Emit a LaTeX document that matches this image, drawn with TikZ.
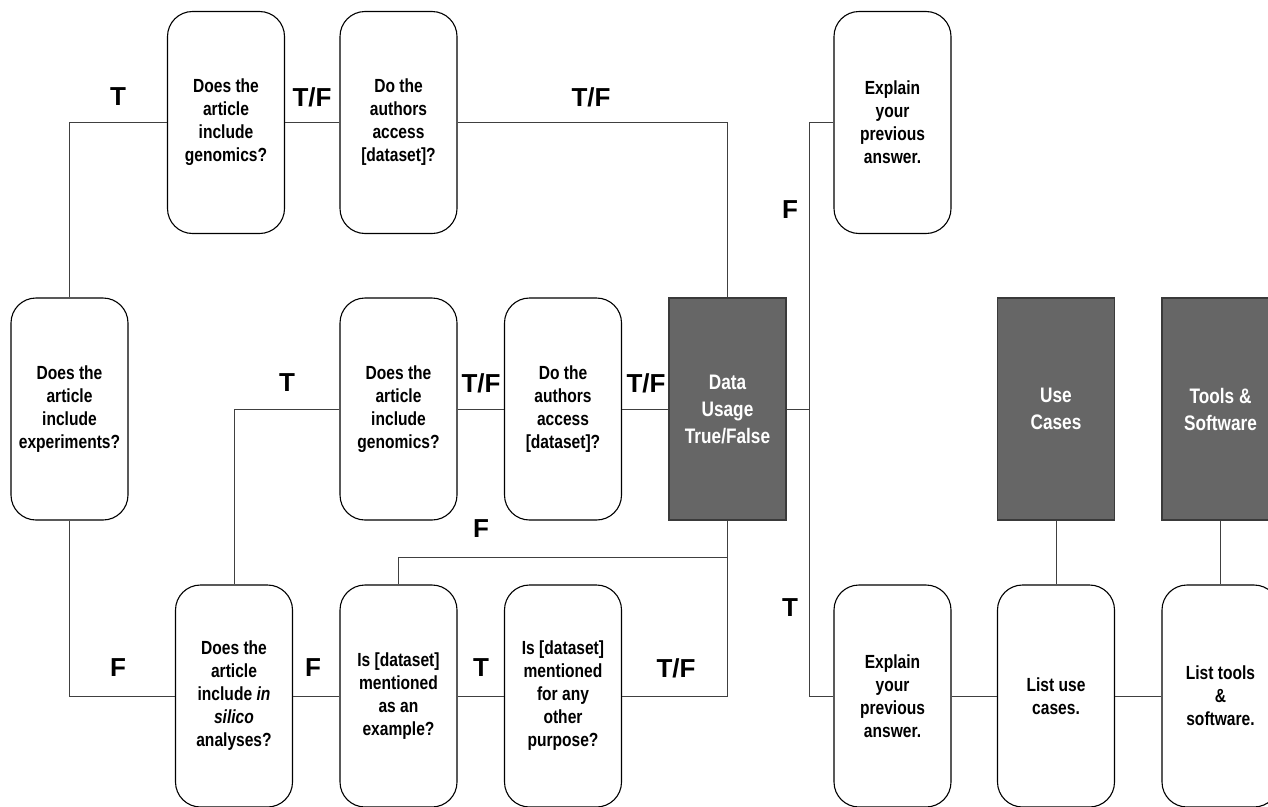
\documentclass[tikz,border=0pt]{standalone}
\usepackage{fontspec}
\setmainfont{Liberation Sans}
\newfontfamily\narrowfont[FakeStretch=0.82]{Liberation Sans}
\definecolor{boxgray}{HTML}{666666}
\definecolor{boxedge}{HTML}{3A3A3A}
\definecolor{linegray}{HTML}{404040}
\tikzset{
  question/.style={draw=black, line width=1.1pt, rounded corners=25pt,
    minimum width=117pt, minimum height=222pt, align=center, inner sep=1pt,
    font=\narrowfont\bfseries\fontsize{19}{23}\selectfont},
  category/.style={draw=boxedge, fill=boxgray, line width=1.1pt,
    minimum width=117pt, minimum height=222pt, align=center, inner sep=1pt,
    text=white, font=\narrowfont\bfseries\fontsize{21}{27}\selectfont},
  flow/.style={draw=linegray, line width=1pt},
  answer/.style={font=\bfseries\fontsize{26}{30}\selectfont, inner sep=0pt}
}
\begin{document}
\begin{tikzpicture}[x=1pt, y=-1pt]
\useasboundingbox (0,0) rectangle (1268,806);
\clip (0,0) rectangle (1268,806);

% question and output boxes
\node[question] (exp)   at (69.5,409)  {Does the\\article\\include\\experiments?};
\node[question] (gen1)  at (226,122.5) {Does the\\article\\include\\genomics?};
\node[question] (acc1)  at (398.5,122.5) {Do the\\authors\\access\\{}[dataset]?};
\node[question] (gen2)  at (398.5,409) {Does the\\article\\include\\genomics?};
\node[question] (acc2)  at (563,409)   {Do the\\authors\\access\\{}[dataset]?};
\node[question] (insil) at (234,696)   {Does the\\article\\include \textit{in}\\\textit{silico}\\analyses?};
\node[question] (ex)    at (398.5,696) {Is [dataset]\\mentioned\\as an\\example?};
\node[question] (oth)   at (563,696)   {Is [dataset]\\mentioned\\for any\\other\\purpose?};
\node[question] (expl1) at (892.5,122.5) {Explain\\your\\previous\\answer.};
\node[question] (expl2) at (892.5,696) {Explain\\your\\previous\\answer.};
\node[question] (luc)   at (1056,696)  {List use\\cases.};
\node[question] (lts)   at (1220.5,696) {List tools\\\&\\software.};

\node[category] (du) at (727.5,409)  {Data\\Usage\\True/False};
\node[category] (uc) at (1056,409)   {Use\\Cases};
\node[category] (ts) at (1220.5,409) {Tools \&\\Software};

% junction points
\coordinate (split) at (809,409);
\coordinate (merge) at (727.5,557);

% connectors
\draw[flow] (exp.north) |- (gen1.west);
\draw[flow] (gen1.east) -- (acc1.west);
\draw[flow] (acc1.east) -| (du.north);
\draw[flow] (exp.south) |- (insil.west);
\draw[flow] (insil.north) |- (gen2.west);
\draw[flow] (gen2.east) -- (acc2.west);
\draw[flow] (acc2.east) -- (du.west);
\draw[flow] (insil.east) -- (ex.west);
\draw[flow] (ex.east) -- (oth.west);
\draw[flow] (oth.east) -| (du.south);
\draw[flow] (ex.north) |- (merge);
\draw[flow] (du.east) -- (split);
\draw[flow] (expl1.west) -| (split) |- (expl2.west);
\draw[flow] (expl2.east) -- (luc.west);
\draw[flow] (luc.east) -- (lts.west);
\draw[flow] (uc.south) -- (luc.north);
\draw[flow] (ts.south) -- (lts.north);

% answer labels
\node[answer] (l1)  at (118,97)  {T};
\node[answer] (l2)  at (312,97)  {T/F};
\node[answer] (l3)  at (591,97)  {T/F};
\node[answer] (l4)  at (790,210) {F};
\node[answer] (l5)  at (287,383) {T};
\node[answer] (l6)  at (481,383) {T/F};
\node[answer] (l7)  at (646,383) {T/F};
\node[answer] (l8)  at (481,529) {F};
\node[answer] (l9)  at (118,668) {F};
\node[answer] (l10) at (313,668) {F};
\node[answer] (l11) at (481,668) {T};
\node[answer] (l12) at (676,668) {T/F};
\node[answer] (l13) at (790,608) {T};
\end{tikzpicture}
\end{document}
